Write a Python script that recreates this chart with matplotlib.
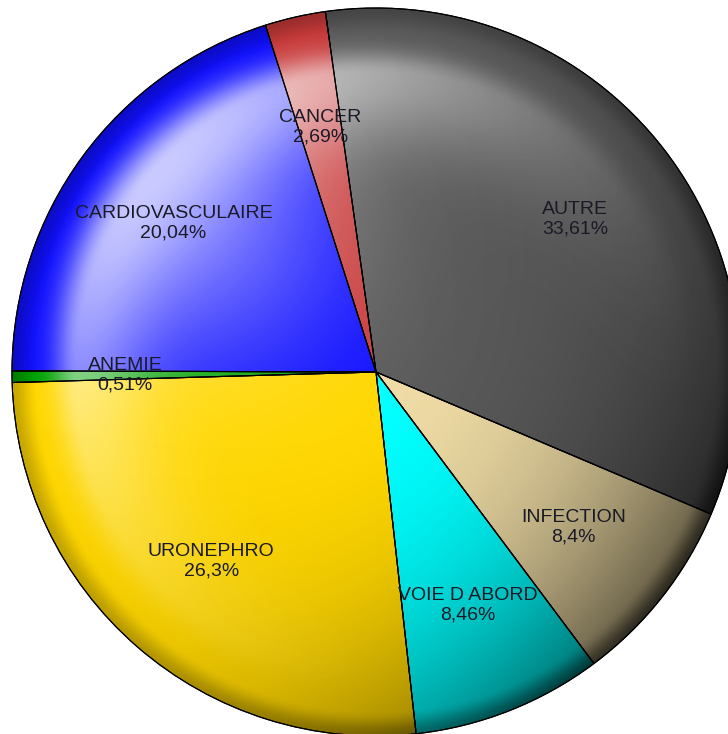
import numpy as np
import matplotlib
matplotlib.use('Agg')
import matplotlib.pyplot as plt
from matplotlib.patches import Wedge

categories = ["AUTRE", "INFECTION", "VOIE D ABORD", "URONEPHRO", "ANEMIE",
              "CARDIOVASCULAIRE", "CANCER"]
values = [33.61, 8.4, 8.46, 26.3, 0.51, 20.04, 2.69]
colors = ["#5a5a5a", "#eedba4", "#00ffff", "#ffd700", "#00a000", "#1010ff", "#c83a3a"]

W, H = 728, 734
fig = plt.figure(figsize=(W / 100, H / 100), dpi=100)
ax = fig.add_axes([0, 0, 1, 1])
cx, cy, R = 376, H - 372, 364

wedges, _ = ax.pie(values, colors=colors, startangle=98, counterclock=False,
                   center=(cx, cy), radius=R, frame=False,
                   wedgeprops=dict(edgecolor='black', linewidth=0.8))

# glossy shading overlays
yy, xx = np.mgrid[0:H, 0:W] + 0.5
x = (xx - cx) / R
y = (yy - cy) / R
r = np.hypot(x, y)
th = np.arctan2(y, x)
inside = (r <= 1.0).astype(float)

def smooth(a, b, t):
    s = np.clip((t - a) / (b - a), 0, 1)
    return s * s * (3 - 2 * s)

dirk = (0.5 + 0.5 * np.cos(th + np.radians(35))) ** 2.5
dark = 0.6 * dirk * r ** 2.2 + 0.22 * smooth(0.93, 1.0, r)
dark = np.clip(dark, 0, 0.85) * inside

peak = 0.82
prof = np.where(r < peak, np.exp(-((r - peak) / 0.2) ** 2),
                np.exp(-((r - peak) / 0.06) ** 2))
dirf = (0.5 + 0.5 * np.cos(th - np.radians(135))) ** 2.2
ring = 0.66 * prof * dirf
blob = 0.42 * np.exp(-((x + 0.5) ** 2 + (y - 0.42) ** 2) / (2 * 0.3 ** 2)) * (1 - smooth(0.86, 0.97, r))
light = (1 - (1 - ring) * (1 - blob)) * inside

dimg = np.zeros((H, W, 4)); dimg[..., 3] = dark
limg = np.ones((H, W, 4)); limg[..., 3] = light
ax.imshow(dimg, extent=(0, W, 0, H), origin='lower', zorder=2, interpolation='bilinear')
ax.imshow(limg, extent=(0, W, 0, H), origin='lower', zorder=3, interpolation='bilinear')

for w in wedges:
    ax.add_patch(Wedge(w.center, w.r, w.theta1, w.theta2, facecolor='none',
                       edgecolor='black', linewidth=0.8, zorder=4))

for w, cat, v in zip(wedges, categories, values):
    mid = np.radians((w.theta1 + w.theta2) / 2)
    px = cx + 0.69 * R * np.cos(mid)
    py = cy + 0.69 * R * np.sin(mid)
    txt = f"{cat}\n{v:g}%".replace('.', ',')
    ax.text(px, py, txt, ha='center', va='center', fontsize=14,
            family='Liberation Sans', color='#1a1a26', zorder=5, linespacing=1.2)

ax.set_xlim(0, W)
ax.set_ylim(0, H)
ax.set_aspect('equal')
ax.axis('off')
fig.savefig('out.png', dpi=100)
